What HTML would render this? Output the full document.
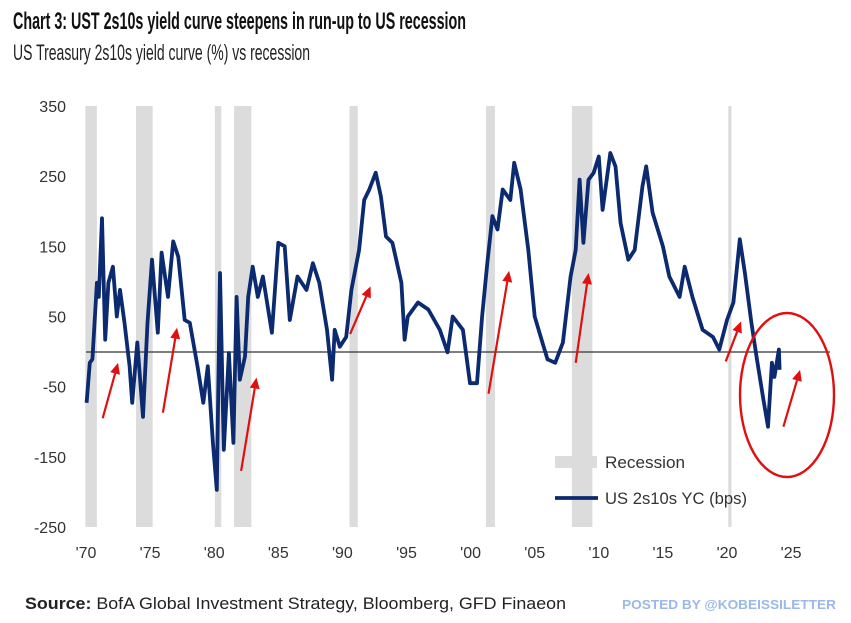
<!DOCTYPE html>
<html><head><meta charset="utf-8"><style>
html,body{margin:0;padding:0;background:#fff;}
svg{display:block;font-family:"Liberation Sans",sans-serif;}
</style></head><body>
<svg id="chart" width="851" height="623" viewBox="0 0 851 623" xmlns="http://www.w3.org/2000/svg">
<text x="13" y="29" font-size="24" font-weight="bold" fill="#111" textLength="453" lengthAdjust="spacingAndGlyphs">Chart 3: UST 2s10s yield curve steepens in run-up to US recession</text>
<text x="13" y="60" font-size="22" fill="#222" textLength="297" lengthAdjust="spacingAndGlyphs">US Treasury 2s10s yield curve (%) vs recession</text>
<g id="rec"></g>
<g id="yt"></g>
<g id="xt"></g>
<line x1="86" x2="830" y1="352" y2="352" stroke="#333" stroke-width="1.3"/>
<path id="series" fill="none" stroke="#0b2a6f" stroke-width="3.8" stroke-linejoin="round"/>
<g id="ann" stroke="#e01010" stroke-width="2.2" fill="#e01010"></g>
<ellipse cx="787" cy="395" rx="47" ry="82" fill="none" stroke="#e01010" stroke-width="2.4"/>
<rect x="555" y="456" width="42" height="12" fill="#dcdcdc"/>
<text x="605" y="468" font-size="17" fill="#333" textLength="80" lengthAdjust="spacingAndGlyphs">Recession</text>
<line x1="555" x2="598" y1="498" y2="498" stroke="#0b2a6f" stroke-width="3.8"/>
<text x="605" y="504" font-size="17" fill="#333" textLength="142" lengthAdjust="spacingAndGlyphs">US 2s10s YC (bps)</text>
<text x="25" y="609" font-size="17" fill="#222" textLength="541" lengthAdjust="spacingAndGlyphs"><tspan font-weight="bold">Source:</tspan> BofA Global Investment Strategy, Bloomberg, GFD Finaeon</text>
<text x="622" y="609" font-size="13" font-weight="bold" fill="#9bb8e8" textLength="214" lengthAdjust="spacingAndGlyphs">POSTED BY @KOBEISSILETTER</text>
</svg>
<script>
const years=[1970.05,1970.3,1970.5,1970.85,1971,1971.25,1971.5,1971.75,1972.1,1972.4,1972.65,1973,1973.4,1973.6,1974,1974.45,1974.8,1975.15,1975.6,1975.9,1976.4,1976.8,1977.2,1977.7,1978.1,1978.7,1979.15,1979.5,1979.9,1980.2,1980.45,1980.75,1981.15,1981.5,1981.75,1982,1982.4,1982.65,1983,1983.4,1983.8,1984.5,1985,1985.5,1985.9,1986.5,1987.2,1987.7,1988.2,1988.8,1989.2,1989.4,1989.8,1990.3,1990.7,1991.3,1991.7,1992.1,1992.6,1993,1993.4,1993.9,1994.6,1994.85,1995.1,1995.9,1996.7,1997.6,1998.2,1998.6,1999.4,1999.95,2000.5,2000.9,2001.3,2001.7,2002.1,2002.5,2003.1,2003.4,2003.9,2004.5,2005,2005.6,2006,2006.6,2007.2,2007.8,2008.2,2008.5,2008.8,2009.2,2009.6,2010,2010.3,2010.9,2011.3,2011.7,2012.3,2012.8,2013.4,2013.7,2014.2,2015,2015.5,2016.3,2016.7,2017.3,2018.1,2018.9,2019.4,2020,2020.5,2021,2021.4,2021.9,2022.3,2022.8,2023.2,2023.5,2023.7,2024.05,2024.1];
const values=[-73,-16,-11,98,78,190,17,98,121,50,88,41,-21,-73,13,-93,41,131,27,141,78,157,135,45,41,-21,-73,-21,-130,-197,112,-140,-2,-130,78,-40,-7,78,121,78,107,27,155,150,45,107,88,126,98,31,-40,31,7,21,88,145,216,231,255,221,164,155,98,17,50,70,60,31,-1,50,31,-45,-45,50,126,193,174,231,216,269,231,145,50,13,-11,-16,13,107,145,245,155,245,255,278,202,283,264,183,131,145,235,264,198,150,107,78,121,78,31,21,3,45,70,160,112,41,-7,-64,-107,-16,-36,3,-26];
const recStart=[1969.95,1973.9,1980.05,1981.55,1990.55,2001.2,2007.9,2020.1];
const recEnd=[1970.85,1975.2,1980.55,1982.9,1991.2,2001.9,2009.5,2020.35];
const yTicks=[350,250,150,50,-50,-150,-250];
const xTickYears=[1970,1975,1980,1985,1990,1995,2000,2005,2010,2015,2020,2025];
const xTickLabels=["'70","'75","'80","'85","'90","'95","'00","'05","'10","'15","'20","'25"];
const arrowsFrom=[[1971.3,-95],[1976,-87],[1982.1,-170],[1990.6,25],[2001.4,-60],[2008.2,-16],[2019.9,-14],[2024.4,-107]];
const arrowsTo=[[1972.5,-16],[1977.1,34],[1983.3,-37],[1992.2,93],[2003,115],[2009.2,112],[2021.1,43],[2025.7,-26]];
const NS='http://www.w3.org/2000/svg';
const x=yr=>86+(yr-1970)*12.82;
const y=v=>351.6-v*0.7017;
function mk(tag,attrs,parent){const e=document.createElementNS(NS,tag);for(const k in attrs)e.setAttribute(k,attrs[k]);parent.appendChild(e);return e;}
const rec=document.getElementById('rec');
for(let i=0;i<recStart.length;i++){
 const r=mk('rect',{x:x(recStart[i]),y:106,width:x(recEnd[i])-x(recStart[i]),height:421,fill:'#dcdcdc'},rec);
 
 
}
const yt=document.getElementById('yt');
yTicks.forEach(v=>{const t=mk('text',{x:66,y:y(v)+6,'font-size':16,fill:'#333','text-anchor':'end'},yt);t.textContent=v;
 
 });
const xt=document.getElementById('xt');
xTickYears.forEach((yr,i)=>{const t=mk('text',{x:x(yr),y:558,'font-size':16,fill:'#333','text-anchor':'middle'},xt);t.textContent=xTickLabels[i];
 
 });
document.getElementById('series').setAttribute('d',years.map((yr,i)=>(i?'L':'M')+x(yr).toFixed(1)+','+y(values[i]).toFixed(1)).join(''));
const ann=document.getElementById('ann');
arrowsFrom.forEach((f,i)=>{const x1=x(f[0]),y1=y(f[1]),x2=x(arrowsTo[i][0]),y2=y(arrowsTo[i][1]);
 const a=Math.atan2(y2-y1,x2-x1),L=11,W=5;
 const bx=x2-L*Math.cos(a),by=y2-L*Math.sin(a);
 const l=mk('line',{x1,y1,x2:bx,y2:by},ann);
 
 
 const p=mk('polygon',{points:`${x2},${y2} ${bx+W*Math.sin(a)},${by-W*Math.cos(a)} ${bx-W*Math.sin(a)},${by+W*Math.cos(a)}`,stroke:'none'},ann);
 
 });
</script>
</body></html>
